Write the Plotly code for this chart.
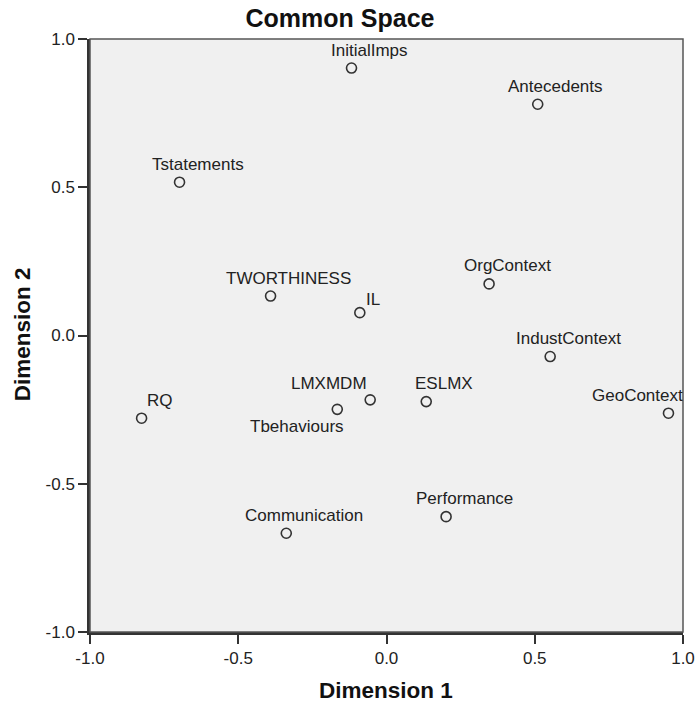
import plotly.graph_objects as go

# Data
names = ["InitialImps", "Antecedents", "Tstatements", "TWORTHINESS", "IL", "OrgContext",
         "IndustContext", "GeoContext", "ESLMX", "LMXMDM", "Tbehaviours", "RQ",
         "Communication", "Performance"]
dim1 = [-0.118, 0.510, -0.698, -0.391, -0.090, 0.346, 0.552, 0.951, 0.134, -0.055,
        -0.166, -0.826, -0.338, 0.201]
dim2 = [0.902, 0.780, 0.517, 0.133, 0.077, 0.174, -0.071, -0.262, -0.223, -0.217,
        -0.249, -0.279, -0.667, -0.611]
tick_vals = [-1.0, -0.5, 0.0, 0.5, 1.0]
tick_text = ["-1.0", "-0.5", "0.0", "0.5", "1.0"]

# label placement (pixel offsets, screen), default (+18, -18)
default_off = (18, -18)
label_off = {"IL": (13, -13), "GeoContext": (-31, -18), "LMXMDM": (-41, -16),
             "Tbehaviours": (-40, 17)}

FONT = "Liberation Sans, Arial, sans-serif"
W, H = 696, 705
L, R, T, B = 89.5, 13.3, 39.3, 73

fig = go.Figure()
fig.add_trace(go.Scatter(
    x=dim1, y=dim2, mode="markers",
    marker=dict(symbol="circle-open", size=10, color="#333333", line=dict(width=1.6)),
    hoverinfo="text", text=names, showlegend=False, cliponaxis=False))

for n, x, y in zip(names, dim1, dim2):
    dx, dy = label_off.get(n, default_off)
    fig.add_annotation(x=x, y=y, xref="x", yref="y", text=n, showarrow=False,
                       xanchor="center", yanchor="middle", xshift=dx, yshift=-dy,
                       font=dict(family=FONT, size=17, color="#222222"))

# plot border (top/right)
fig.add_shape(type="rect", xref="paper", yref="paper", x0=0, y0=0, x1=1, y1=1,
              line=dict(color="#555555", width=1.5), layer="above")

axis_common = dict(range=[-1.0, 1.0], tickvals=tick_vals, ticktext=tick_text,
                   showgrid=False, zeroline=False, showline=True, linecolor="#333333",
                   linewidth=2.5, ticks="outside", ticklen=9, tickwidth=2,
                   tickcolor="#333333", tickfont=dict(family=FONT, size=17, color="#222222"),
                   fixedrange=True, automargin=False)

fig.update_layout(
    width=W, height=H,
    margin=dict(l=L, r=R, t=T, b=B, pad=0, autoexpand=False),
    paper_bgcolor="white", plot_bgcolor="#f0f0f0",
    xaxis=dict(**axis_common, mirror=False),
    yaxis=dict(**axis_common, mirror=False),
    title=dict(text="<b>Common Space</b>", x=340 / W, xref="container", xanchor="center",
               y=1 - 18 / H, yref="container", yanchor="middle",
               font=dict(family=FONT, size=25, color="#111111")),
)

PW, PH = W - L - R, H - T - B
fig.add_annotation(x=(386 - L) / PW, y=-(690 - (H - B)) / PH, xref="paper", yref="paper",
                   text="<b>Dimension 1</b>", showarrow=False, xanchor="center", yanchor="middle",
                   font=dict(family=FONT, size=22.5, color="#111111"))
fig.add_annotation(x=-(L - 22) / PW, y=(H - B - 335) / PH, xref="paper", yref="paper",
                   text="<b>Dimension 2</b>", textangle=-90,
                   showarrow=False, xanchor="center", yanchor="middle",
                   font=dict(family=FONT, size=22.5, color="#111111"))

fig.write_html("out.html", config={"displayModeBar": False},
               post_script="document.body.style.margin='0';document.body.style.overflow='hidden';")
